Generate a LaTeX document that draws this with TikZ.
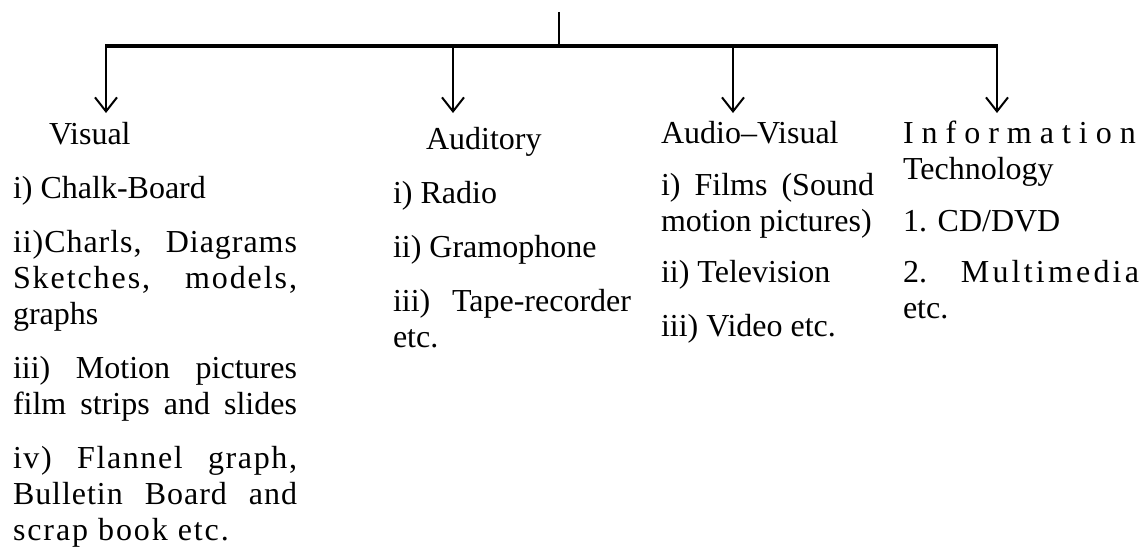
\documentclass[tikz,border=0pt]{standalone}
\usepackage{fontspec}
\setmainfont{Liberation Serif}
\usetikzlibrary{arrows.meta}
\hyphenpenalty=10000
\exhyphenpenalty=10000
\tolerance=10000

\begin{document}
\begin{tikzpicture}[x=1pt, y=-1pt, line width=2pt,
    item/.style={anchor=base west, inner sep=0pt, align=justify, font=\fontsize{32}{36}\selectfont},
    head/.style={anchor=base west, inner sep=0pt, font=\fontsize{32}{36}\selectfont},
    drop/.style={-{Straight Barb[length=14pt, width=22pt]}}]
    \useasboundingbox (0,0) rectangle (1140,551);

    % tree
    \coordinate (top) at (559,12);
    \coordinate (hub) at (559,46);
    \coordinate (bv) at (106,46);
    \coordinate (ba) at (453,46);
    \coordinate (bav) at (733,46);
    \coordinate (bit) at (997,46);
    \coordinate (tv) at (106,113);
    \coordinate (ta) at (453,113);
    \coordinate (tav) at (733,113);
    \coordinate (tit) at (997,113);

    \draw (top) -- (hub);
    \draw[line width=4pt] (bv) ++(-1,0) -- (bit) -- ++(1,0);
    \draw[drop] (bv) -- (tv);
    \draw[drop] (ba) -- (ta);
    \draw[drop] (bav) -- (tav);
    \draw[drop] (bit) -- (tit);

    % Visual
    \node[head] (vis) at (48,144) {Visual};
    \node[item, text width=284pt] (vis1) at (12,198) {i) Chalk-Board};
    \node[item, text width=284pt] (vis2) at (12,252) {{\addfontfeature{LetterSpace=3}ii)Charls, Diagrams}\linebreak {\addfontfeature{LetterSpace=6}Sketches, models,}\linebreak graphs};
    \node[item, text width=284pt] (vis3) at (12,378) {iii) Motion pictures\linebreak film strips and slides\linebreak};
    \node[item, text width=284pt] (vis4) at (12,468) {{\addfontfeature{LetterSpace=5}iv) Flannel graph,}\linebreak {\addfontfeature{LetterSpace=3}Bulletin Board and}\linebreak {\addfontfeature{LetterSpace=6}scrap book etc.}};

    % Auditory
    \node[head] (aud) at (425,149) {Auditory};
    \node[item, text width=238pt] (aud1) at (392,203) {i) Radio};
    \node[item, text width=238pt] (aud2) at (392,257) {ii) Gramophone};
    \node[item, text width=238pt] (aud3) at (392,311) {iii) Tape-recorder\linebreak etc.};

    % Audio-Visual
    \node[head] (av) at (660,143) {Audio–Visual};
    \node[item, text width=213pt] (av1) at (660,195) {i) Films (Sound\linebreak motion pictures)};
    \node[item, text width=213pt] (av2) at (660,282) {ii) Television};
    \node[item, text width=213pt] (av3) at (660,336) {iii) Video etc.};

    % Information Technology
    \node[item, text width=236pt] (it) at (902,143) {{\addfontfeature{LetterSpace=25}Information}\\Technology};
    \node[item, text width=236pt] (it1) at (902,231) {1. CD/DVD};
    \node[item, text width=236pt] (it2) at (902,282) {2. {\addfontfeature{LetterSpace=10}Multimedia}\linebreak etc.};
\end{tikzpicture}
\end{document}
